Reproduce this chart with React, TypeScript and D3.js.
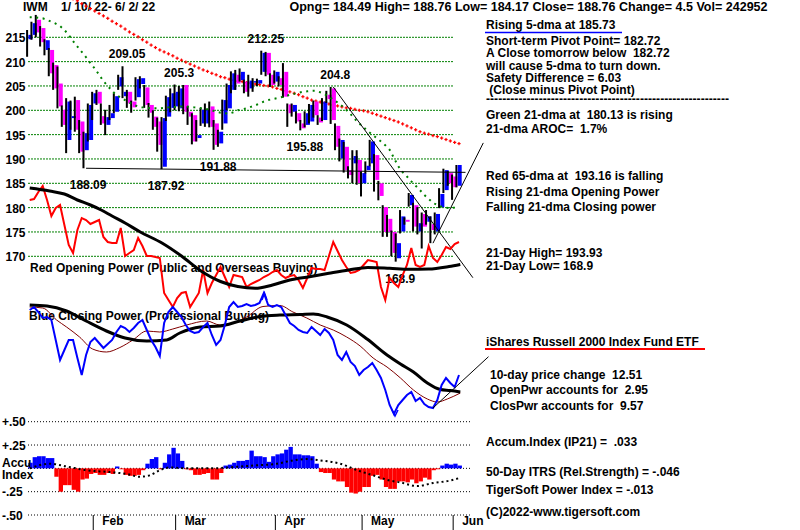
import React from 'react';
import * as d3 from 'd3';

const W = 800;
const H = 530;

// ---- daily OHLC, IWM 1/10/22 - 6/2/22 ----
const opens = [
  214.6, 215.5, 218.6, 216.9, 212.4, 212.4, 209.3, 205.5, 200.1, 193.9,
  198.4, 202.1, 197.7, 191.8, 193.9, 201.4, 203.8, 198.8, 197.0, 198.4,
  199.7, 204.9, 202.9, 203.8, 201.8, 202.7, 205.4, 204.7, 201.1, 198.7,
  197.7, 188.4, 198.7, 200.5, 200.8, 200.4, 205.2, 199.7, 199.0, 194.3,
  197.3, 197.3, 200.8, 197.3, 193.2, 197.3, 200.4, 204.2, 207.3, 206.2,
  205.9, 204.5, 205.8, 205.5, 207.9, 211.8, 207.3, 205.9, 206.6, 207.9,
  201.2, 199.7, 199.4, 197.3, 197.0, 197.7, 201.8, 198.5, 198.0, 203.2,
  204.5, 196.8, 190.1, 192.5, 187.7, 189.1, 189.8, 185.0, 187.7, 189.1,
  190.8, 185.0, 180.1, 177.7, 175.0, 169.6, 175.1, 177.5, 180.5, 180.5,
  175.1, 178.7, 177.1, 176.6, 175.1, 180.1, 183.6, 187.1, 186.4, 184.49,
];
const highs = [
  216.5, 218.2, 219.6, 217.3, 214.6, 212.8, 209.8, 209.0, 201.0, 202.5,
  202.0, 202.8, 198.0, 195.6, 201.4, 203.8, 204.2, 201.4, 200.1, 201.1,
  203.5, 207.3, 209.05, 204.2, 202.0, 206.8, 207.0, 205.2, 201.5, 200.0,
  198.5, 198.6, 203.0, 204.5, 205.3, 205.0, 205.2, 200.8, 199.4, 198.0,
  200.5, 201.4, 201.8, 198.0, 196.0, 202.2, 205.5, 208.0, 208.3, 208.6,
  206.3, 207.3, 206.6, 206.5, 212.25, 212.0, 207.6, 208.2, 207.0, 209.7,
  201.4, 201.4, 199.8, 198.0, 199.8, 201.3, 202.0, 199.0, 202.5, 204.0,
  204.8, 197.3, 194.2, 193.5, 188.5, 191.8, 191.8, 187.4, 189.5, 193.93,
  191.0, 185.5, 180.5, 178.5, 175.3, 174.7, 179.5, 178.0, 183.0, 181.0,
  180.1, 179.0, 179.5, 178.2, 179.0, 184.0, 188.0, 187.5, 186.8, 188.76,
];
const lows = [
  211.0, 214.5, 215.0, 213.1, 211.3, 207.0, 204.2, 200.4, 196.6, 191.2,
  196.0, 195.6, 191.2, 188.09, 193.6, 198.0, 201.1, 197.0, 194.9, 198.0,
  199.4, 204.2, 202.5, 200.5, 199.5, 202.0, 204.5, 200.5, 198.5, 196.0,
  191.5, 187.92, 197.8, 199.6, 200.0, 199.8, 199.2, 197.0, 193.0, 193.6,
  196.8, 196.6, 196.5, 191.88, 192.5, 196.0, 200.0, 203.5, 204.2, 205.9,
  203.5, 202.8, 203.8, 205.0, 207.3, 207.0, 204.8, 205.5, 204.9, 202.6,
  196.6, 198.7, 197.3, 195.88, 196.5, 197.3, 198.5, 197.0, 197.8, 201.5,
  197.2, 191.8, 189.5, 187.2, 186.0, 185.0, 184.7, 182.3, 187.0, 188.5,
  183.3, 181.5, 174.0, 174.0, 170.0, 168.9, 174.7, 176.5, 180.2, 175.1,
  174.5, 171.6, 176.5, 172.7, 174.5, 179.9, 183.0, 184.5, 181.6, 184.17,
];
const closes = [
  215.5, 217.9, 216.0, 214.0, 214.4, 207.6, 204.5, 200.8, 197.0, 201.8,
  198.8, 196.0, 191.5, 195.3, 201.1, 203.5, 201.4, 197.3, 198.6, 199.4,
  202.9, 206.8, 203.8, 201.4, 200.6, 206.4, 206.6, 201.1, 199.5, 196.6,
  192.9, 198.4, 202.7, 203.5, 203.8, 204.5, 199.7, 198.7, 193.6, 194.9,
  200.1, 200.1, 196.6, 192.9, 195.6, 202.1, 205.2, 207.6, 205.5, 207.9,
  203.8, 206.1, 206.0, 206.2, 211.8, 207.3, 205.2, 207.9, 205.2, 202.8,
  199.4, 201.1, 197.7, 196.3, 199.4, 201.1, 199.0, 197.5, 201.8, 202.3,
  198.0, 192.5, 193.9, 187.7, 186.7, 190.6, 185.0, 187.1, 188.6, 193.6,
  185.7, 182.4, 175.0, 175.0, 170.7, 172.7, 178.2, 177.1, 182.6, 176.1,
  176.8, 176.1, 178.2, 175.4, 178.7, 182.8, 187.7, 185.0, 184.2, 188.76,
];

// green 21-dma and red 65-dma (daily)
const ma21 = [
  219.1, 219.1, 219.0, 218.9, 218.6, 218.2, 217.8, 217.3, 216.5, 215.5,
  214.2, 213.1, 212.0, 210.9, 209.7, 208.6, 207.3, 206.0, 205.0, 204.0,
  203.1, 202.6, 202.1, 201.6, 201.1, 200.8, 200.6, 200.5, 200.4, 200.4,
  200.4, 200.5, 200.6, 200.7, 200.7, 200.8, 200.8, 200.7, 200.6, 200.5,
  200.4, 200.2, 200.0, 199.7, 199.5, 199.4, 199.3, 199.6, 200.0, 200.2,
  200.4, 200.7, 201.0, 201.4, 201.8, 202.1, 202.3, 202.5, 202.7, 202.9,
  203.2, 203.4, 203.6, 203.8, 203.9, 204.0, 204.0, 203.7, 203.3, 202.8,
  202.2, 201.6, 200.9, 200.1, 199.2, 198.2, 197.3, 196.5, 195.7, 195.0,
  194.3, 193.6, 192.8, 191.9, 190.2, 188.5, 187.3, 186.4, 185.4, 184.5,
  183.6, 182.6, 181.8, 181.0, 180.5, 180.2, 180.0, 179.9, 180.0, 180.13,
];
const ma65 = [
  227.5, 227.1, 226.6, 226.2, 225.7, 225.2, 224.7, 224.3, 223.8, 223.3,
  222.9, 222.5, 221.9, 221.4, 220.9, 220.4, 219.9, 219.4, 218.9, 218.3,
  217.8, 217.3, 216.7, 216.1, 215.6, 215.1, 214.5, 214.0, 213.4, 212.9,
  212.4, 212.0, 211.6, 211.2, 210.7, 210.3, 209.9, 209.5, 209.1, 208.7,
  208.3, 208.0, 207.6, 207.3, 206.9, 206.7, 206.4, 206.2, 206.0, 205.9,
  205.7, 205.6, 205.4, 205.3, 205.1, 205.0, 204.8, 204.5, 204.3, 204.0,
  203.8, 203.5, 203.2, 202.8, 202.5, 202.1, 201.9, 201.7, 201.5, 201.3,
  201.1, 200.9, 200.7, 200.5, 200.4, 200.2, 200.0, 199.9, 199.7, 199.4,
  199.1, 198.8, 198.5, 198.2, 197.9, 197.6, 197.2, 196.8, 196.4, 196.0,
  195.6, 195.3, 195.1, 194.8, 194.6, 194.3, 194.0, 193.7, 193.4, 193.16,
];

// Opening power (red) and Closing power (blue), chart units
const openPower = [
  100, 101, 108, 114, 100, 84, 92, 95, 75, 55,
  47, 70, 82, 80, 76, 78, 80, 63, 58, 57,
  57, 72, 44, 47, 50, 62, 54, 44, 44, 43,
  42, 7, 0, -7, 2, 7, 8, -7, 0, 7,
  30, 7, 17, 25, 33, 23, 13, 25, 24, 23,
  13, 16, 18, 20, 23, 25, 28, 30, 25, 22,
  24, 25, 20, 12, 22, 32, 31, 31, 30, 44,
  58, 49, 40, 33, 27, 28, 30, 35, 40, 39,
  38, 13, 0, 22, 17, 13, 25, 35, 52, 35,
  33, 35, 54, 42, 38, 45, 53, 51, 56, 58,
];
const closePower = [
  110, 113, 108, 102, 103, 100, 80, 60, 70, 80,
  80, 62, 45, 65, 78, 82, 77, 72, 76, 80,
  88, 94, 92, 88, 92, 97, 100, 90, 80, 73,
  64, 97, 108, 113, 108, 103, 95, 89, 87, 88,
  93, 97, 85, 75, 80, 95, 113, 118, 113, 114,
  116, 114, 115, 117, 127, 115, 113, 115, 113, 105,
  97, 94, 90, 88, 87, 93, 89, 85, 91, 87,
  80, 65, 60, 68, 58, 54, 45, 50, 53, 57,
  50, 42, 30, 15, 6, 15, 20, 25, 28, 19,
  22, 16, 13, 12, 20, 35, 42, 37, 33, 45,
];
// smoothed averages read as [day, value] points
const openPowerMA: [number, number][] = [
  [0, 112], [4.6, 109], [8, 106], [11, 100], [14, 95], [16.5, 90], [19, 84], [22, 77],
  [25.5, 68], [30.5, 57], [35, 44], [39.5, 29], [44, 18.5], [48, 13.5], [52, 11.7],
  [56, 15], [60, 20], [64.5, 23.3], [69, 26.7], [73.6, 30], [78, 32.5], [83, 31.7],
  [87.5, 30.7], [92, 31], [96.7, 33.5], [99.3, 35.5],
];
const closePowerMA: [number, number][] = [
  [0, 115], [4, 114], [8.5, 109], [13, 99], [17.7, 89], [22, 82], [27, 79], [31.6, 80],
  [34.6, 87], [39.3, 93], [43.9, 94], [48.5, 99], [53.1, 103.5], [57.7, 105], [62.4, 105.5],
  [65.4, 106], [68.6, 103], [73.1, 95], [77.8, 81], [82.4, 65], [85.5, 56], [88.5, 48],
  [91.7, 37], [94.7, 30.5], [97, 29.5], [99.3, 28],
];
const closePowerMA2: [number, number][] = [
  [0, 113], [3, 112], [6.2, 100], [8.5, 93], [11.5, 83], [14.5, 71], [17.7, 68], [20.8, 72.5],
  [23.8, 80], [27, 89], [30, 88], [33, 91], [36.2, 95], [40.8, 99], [43.9, 95], [46.9, 97],
  [50, 103], [53.8, 113.5], [57.7, 114.5], [60.7, 108], [63.9, 102], [67, 95], [70, 90],
  [73.1, 83], [76.2, 74], [79.2, 62], [82.4, 53], [85.5, 42], [88.5, 30], [91.7, 21],
  [94, 18], [96.3, 21], [99.3, 27],
];

// Accumulation index (IP21)
const accum = [
  0.06, 0.12, 0.13, 0.13, 0.11, 0.11, -0.09, -0.25, -0.18, -0.18,
  -0.23, -0.25, -0.12, -0.11, -0.06, -0.05, -0.07, -0.07, -0.05, -0.06,
  0.02, -0.01, -0.07, -0.08, -0.08, -0.07, -0.02, 0.05, 0.10, 0.12,
  -0.01, 0.06, 0.15, 0.22, 0.16, 0.08, -0.01, -0.02, -0.07, -0.07,
  -0.06, -0.05, -0.12, -0.12, -0.05, 0.03, 0.04, 0.06, 0.08, 0.08,
  0.09, 0.19, 0.13, 0.13, 0.12, 0.07, 0.13, 0.15, 0.16, 0.20,
  0.23, 0.15, 0.15, 0.14, 0.14, 0.13, 0.05, -0.04, -0.05, -0.05,
  -0.12, -0.14, -0.14, -0.20, -0.26, -0.27, -0.25, -0.20, -0.20, -0.08,
  -0.07, -0.12, -0.20, -0.22, -0.22, -0.14, -0.14, -0.15, -0.12, -0.16,
  -0.14, -0.10, -0.12, -0.02, -0.01, 0.03, 0.05, 0.04, 0.05, 0.03,
];
const accumMA: [number, number][] = [
  [0, 0], [4.6, 0.05], [8.5, 0.02], [13, -0.02], [18.5, -0.04], [22.3, -0.06], [25.4, -0.09],
  [27.7, -0.075], [30, -0.02], [32.3, 0.01], [36.2, 0], [42.3, 0], [46.9, 0.014], [51.5, 0.03],
  [57, 0.05], [60.7, 0.085], [64, 0.1], [67, 0.085], [71.6, 0.05], [75.5, -0.02], [79.2, -0.075],
  [83, -0.13], [85.4, -0.15], [89.4, -0.19], [93, -0.157], [97, -0.13], [99, -0.105],
];

const priceTicks = [215, 210, 205, 200, 195, 190, 185, 180, 175, 170];
const accumTicks = [0.5, 0.25, -0.25, -0.5];
const accumTickLabels = ['+.50', '+.25', '-.25', '-.50'];
const monthNames = ['Feb', 'Mar', 'Apr', 'May', 'Jun'];
const monthStartDay = [15, 34, 57, 77, 98];
const highLabelDays = [22, 34, 54, 70];
const lowLabelDays = [13, 31, 43, 63, 85];
const lowLabelText = ['188.09', '187.92', '191.88', '195.88', '168.9'];
const highLabelText = ['209.05', '205.3', '212.25', '204.8'];
// trend lines as [day, price]
const priceTrendLines: [number, number][][] = [
  [[70, 204.8], [102.2, 165.6]],
  [[93, 172.7], [104.6, 193.3]],
  [[13, 188.09], [100.5, 187.25]],
];
const closePowerTrend: [number, number][] = [[93, 12], [105.8, 63.3]];

const rightText1 = [
  'Short-term Pivot Point= 182.72',
  'A Close tomorrow below  182.72',
  'will cause 5-dma to turn down.',
  'Safety Difference = 6.03',
  ' (Close minus Pivot Point)',
];

const FONT = "'Liberation Sans', Arial, Helvetica, sans-serif";

function T(props: any) {
  const { children, ...rest } = props;
  return (
    <text
      fontFamily={FONT}
      fontWeight="bold"
      fontSize={12}
      fill="#000"
      xmlSpace="preserve"
      style={{ whiteSpace: 'pre' }}
      {...rest}
    >
      {children}
    </text>
  );
}

export default function App() {
  const n = opens.length;
  const x = d3.scaleLinear().domain([0, 99]).range([29.7, 459]);
  const yP = d3.scaleLinear().domain([170, 215]).range([256.3, 37.3]);
  const yR = d3.scaleLinear().domain([0, 120]).range([300, 180]);
  const yB = d3.scaleLinear().domain([0, 120]).range([420, 300]);
  const yA = d3.scaleLinear().domain([-0.5, 0.5]).range([515, 421.7]);
  const step = x(1) - x(0);

  const daily = (scale: any, arr: number[]) =>
    d3.line<number>().x((_, i) => x(i)).y((v) => scale(v))(arr) || '';
  const knots = (scale: any, pts: [number, number][]) =>
    d3
      .line<[number, number]>()
      .x((d) => x(d[0]))
      .y((d) => scale(d[1]))
      .curve(d3.curveMonotoneX)(pts) || '';
  const straight = (scale: any, pts: [number, number][]) =>
    d3
      .line<[number, number]>()
      .x((d) => x(d[0]))
      .y((d) => scale(d[1]))(pts) || '';

  const days = d3.range(n);

  return (
    <svg
      width={W}
      height={H}
      viewBox={`0 0 ${W} ${H}`}
      style={{ position: 'absolute', left: 0, top: 0, background: '#fff' }}
    >
      <rect x={0} y={0} width={W} height={H} fill="#fff" />

      {/* header */}
      <T x={23} y={11}>IWM</T>
      <T x={61} y={11}>1/ 10/ 22- 6/ 2/ 22</T>
      <T x={289.5} y={11} textLength={478} lengthAdjust="spacingAndGlyphs">
        Opng= 184.49 High= 188.76 Low= 184.17 Close= 188.76 Change= 4.5 Vol= 242952
      </T>

      {/* price gridlines */}
      {priceTicks.map((t) => (
        <g key={'pt' + t}>
          <line x1={28} x2={453} y1={yP(t)} y2={yP(t)} stroke="#008000" strokeWidth={1} strokeDasharray="2 1" />
          <T x={25.5} y={yP(t) + 5} textAnchor="end">{String(t)}</T>
        </g>
      ))}

      {/* power labels (beneath lines) */}
      <T x={30} y={272}>Red Opening Power (Public and Overseas Buying)</T>
      <T x={29} y={319.5}>Blue Closing Power (Professional Buying)</T>

      {/* high / low labels */}
      {highLabelDays.map((d, k) => (
        <T key={'hl' + d} x={x(d) + 2} y={yP(highs[d]) - 8} textAnchor="middle">{highLabelText[k]}</T>
      ))}
      {lowLabelDays.map((d, k) => (
        <T key={'ll' + d} x={x(d) + 2} y={yP(lows[d]) + 21} textAnchor="middle">{lowLabelText[k]}</T>
      ))}

      {/* red 65-dma crosses */}
      {ma65.map((v, i) => {
        const cx = x(i);
        const cy = yP(v);
        return (
          <g key={'m65' + i} fill="#ff0000">
            <rect x={cx - 1.6} y={cy - 0.6} width={3.2} height={1.2} />
            <rect x={cx - 0.6} y={cy - 1.6} width={1.2} height={3.2} />
          </g>
        );
      })}

      {/* candles */}
      {days.map((i) => {
        const cx = x(i);
        const up = closes[i] >= opens[i];
        const top = yP(Math.max(opens[i], closes[i]));
        const bot = yP(Math.min(opens[i], closes[i]));
        return (
          <g key={'c' + i}>
            <rect x={cx - 3.6} y={yP(highs[i])} width={2} height={Math.max(1, yP(lows[i]) - yP(highs[i]))} fill="#000" />
            <rect x={cx - 1.3} y={top} width={4} height={Math.max(1.5, bot - top)} fill={up ? '#0000ff' : '#ff00ff'} />
          </g>
        );
      })}

      {/* green 21-dma dotted */}
      <path d={daily(yP, ma21)} fill="none" stroke="#008000" strokeWidth={2} strokeDasharray="2 4.5" />

      {/* trend lines */}
      {priceTrendLines.map((pts, k) => (
        <path key={'tl' + k} d={straight(yP, pts)} fill="none" stroke="#000" strokeWidth={1} />
      ))}

      {/* opening power */}
      <path d={daily(yR, openPower)} fill="none" stroke="#ff0000" strokeWidth={2} />
      <path d={knots(yR, openPowerMA)} fill="none" stroke="#000" strokeWidth={3} />

      {/* closing power */}
      <path d={knots(yB, closePowerMA2)} fill="none" stroke="#800000" strokeWidth={1} />
      <path d={knots(yB, closePowerMA)} fill="none" stroke="#000" strokeWidth={3} />
      <path d={daily(yB, closePower)} fill="none" stroke="#0000ff" strokeWidth={2} />
      <path d={straight(yB, closePowerTrend)} fill="none" stroke="#000" strokeWidth={1} />

      {/* small markers */}
      <path d="M262,300 L264.5,293 L267,300" fill="none" stroke="#0000ff" strokeWidth={1.5} />
      <path d="M392,410 L395,416 L398,410" fill="none" stroke="#0000ff" strokeWidth={1.5} />

      {/* accumulation index panel */}
      {[...accumTicks, 0].map((t) => (
        <line key={'ag' + t} x1={28} x2={472} y1={yA(t)} y2={yA(t)} stroke="#000" strokeWidth={1} strokeDasharray="1 2" />
      ))}
      {accumTicks.map((t, k) => (
        <T key={'al' + t} x={2} y={yA(t) + 4.5}>{accumTickLabels[k]}</T>
      ))}
      {accum.map((v, i) => (
        <rect
          key={'ab' + i}
          x={x(i) - 1.4}
          y={Math.min(yA(0), yA(v))}
          width={step}
          height={Math.abs(yA(v) - yA(0))}
          fill={v >= 0 ? '#0000ff' : '#ff0000'}
        />
      ))}
      <path d={knots(yA, accumMA)} fill="none" stroke="#000" strokeWidth={2} strokeDasharray="2 3" />
      <T x={2} y={467}>Accu</T>
      <T x={2} y={479}>Index</T>

      {/* month ticks */}
      {monthStartDay.map((d, k) => (
        <g key={'mt' + d}>
          <line x1={x(d) - 1.5} x2={x(d) - 1.5} y1={515} y2={530} stroke="#000" strokeWidth={1} />
          <T x={x(d) + 7.5} y={525}>{monthNames[k]}</T>
        </g>
      ))}

      {/* right text panel */}
      <T x={486} y={29}>Rising 5-dma at 185.73</T>
      <line x1={485} x2={622} y1={32.5} y2={32.5} stroke="#0000ff" strokeWidth={1.5} />
      {rightText1.map((s, k) => (
        <T key={'rt' + k} x={486} y={45 + k * 12.3}>{s}</T>
      ))}
      <T x={486} y={103} textLength={243} lengthAdjust="spacingAndGlyphs">{'-'.repeat(60)}</T>
      <T x={486} y={119}>Green 21-dma at  180.13 is rising</T>
      <T x={486} y={133}>21-dma AROC=  1.7%</T>
      <T x={486} y={180}>Red 65-dma at  193.16 is falling</T>
      <T x={486} y={195.5}>Rising 21-dma Opening Power</T>
      <T x={486} y={211}>Falling 21-dma Closing power</T>
      <T x={486} y={257}>21-Day High= 193.93</T>
      <T x={486} y={270}>21-Day Low= 168.9</T>
      <T x={486} y={345.5}>iShares Russell 2000 Index Fund ETF</T>
      <line x1={485} x2={705} y1={349} y2={349} stroke="#ff0000" strokeWidth={2} />
      <T x={490} y={378.5}>10-day price change  12.51</T>
      <T x={490} y={394}>OpenPwr accounts for  2.95</T>
      <T x={490} y={410}>ClosPwr accounts for  9.57</T>
      <T x={486} y={445.5}>Accum.Index (IP21) =  .033</T>
      <T x={486} y={476}>50-Day ITRS (Rel.Strength) = -.046</T>
      <T x={486} y={494}>TigerSoft Power Index = -.013</T>
      <T x={486} y={515.5}>(C)2022-www.tigersoft.com</T>
    </svg>
  );
}
